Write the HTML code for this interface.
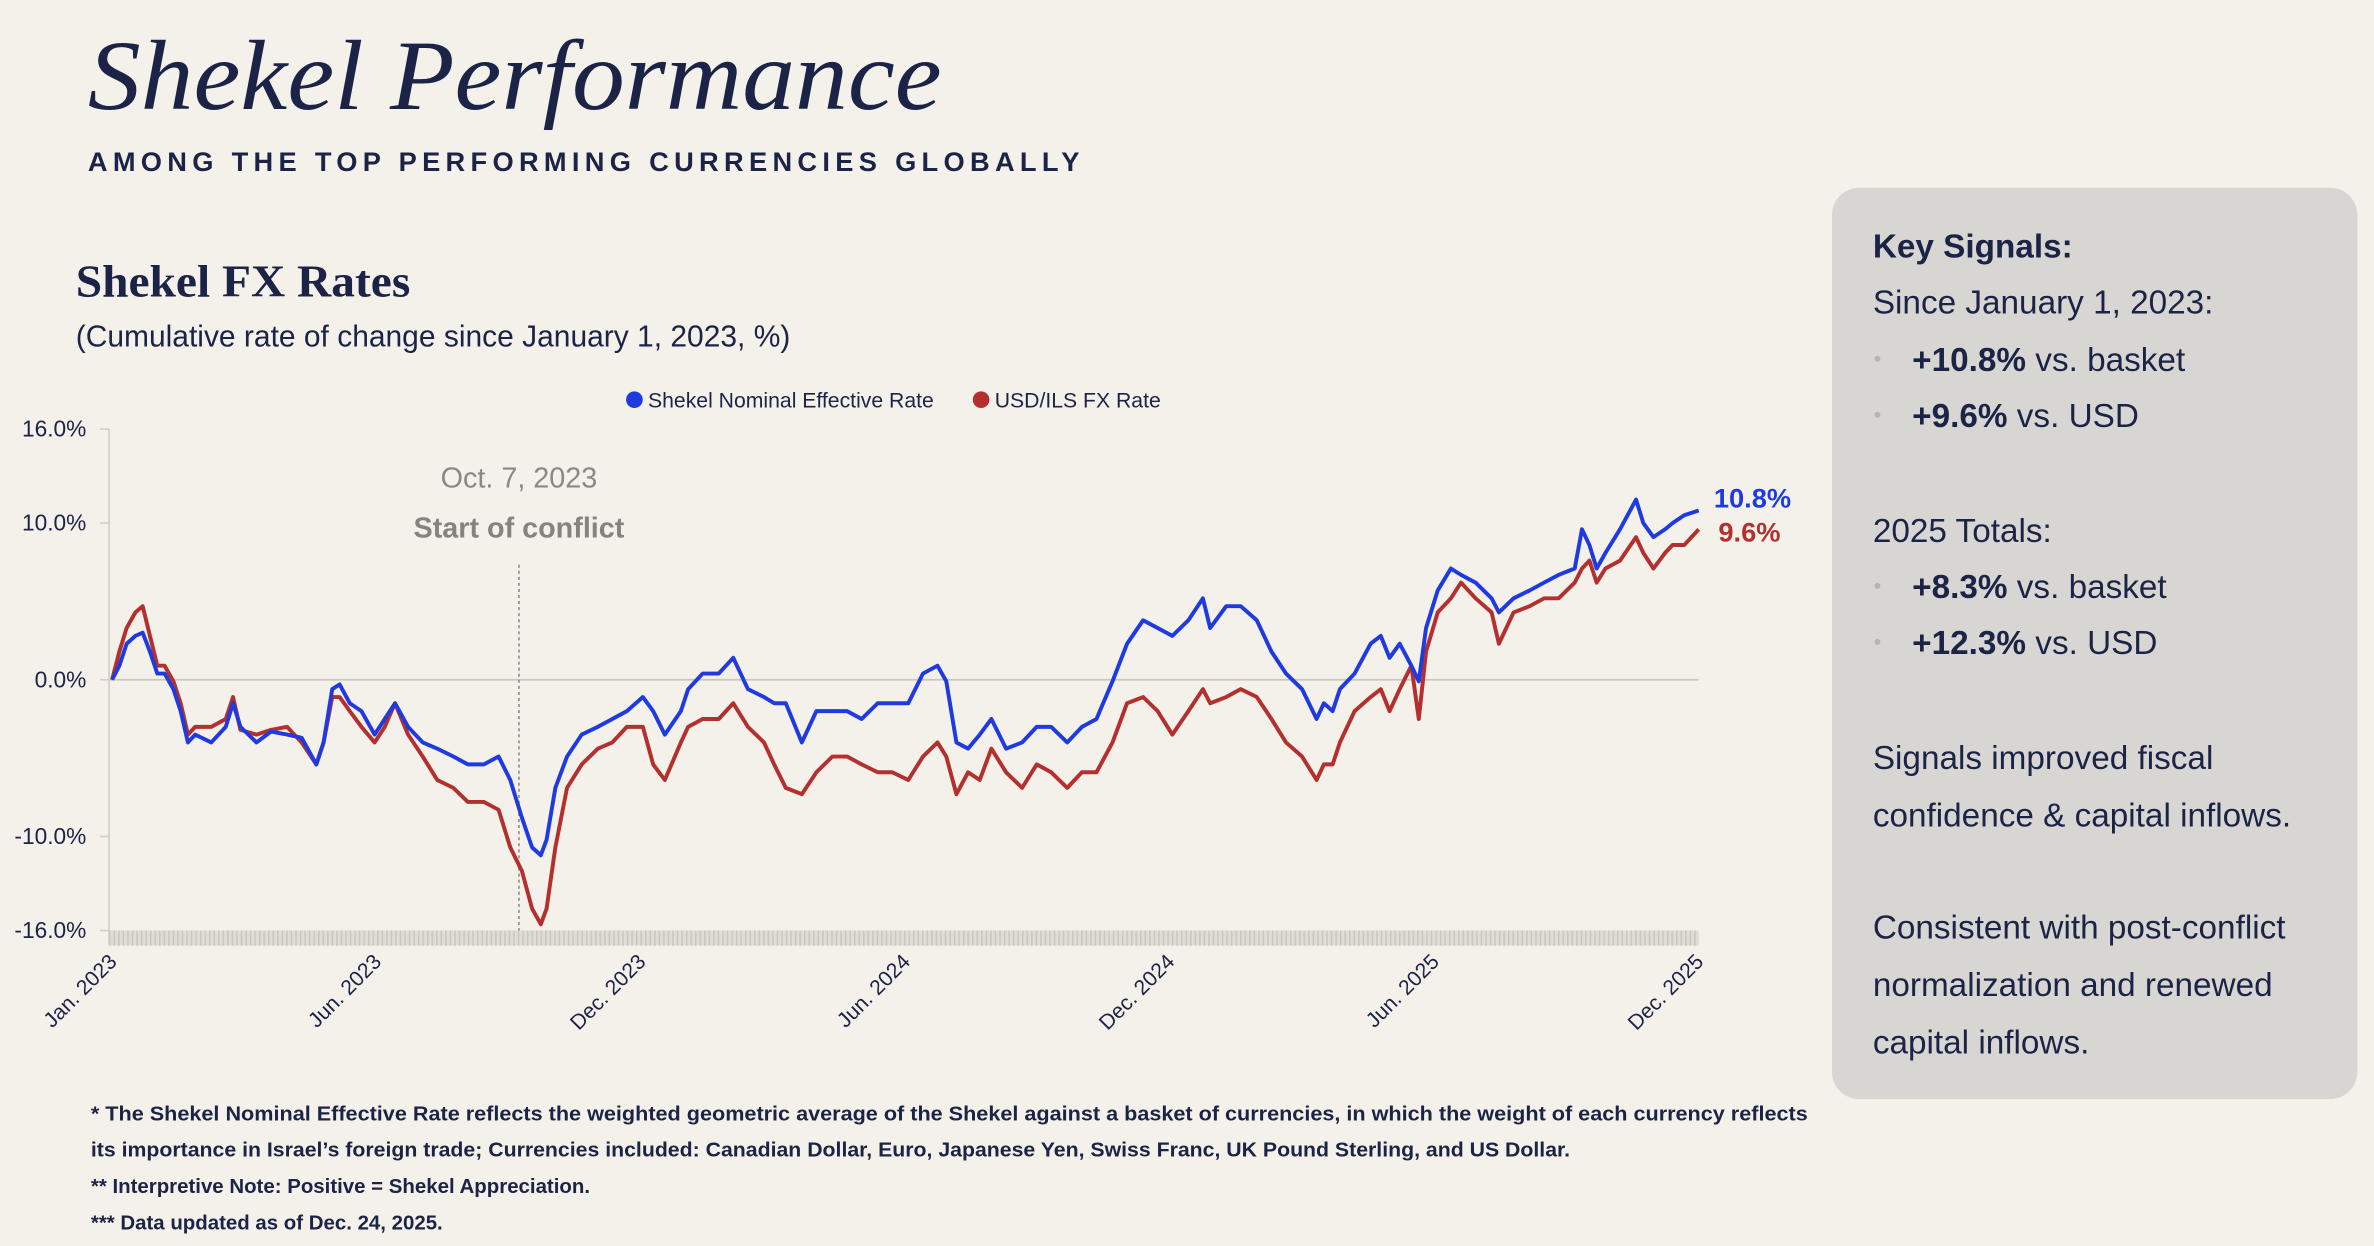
<!DOCTYPE html>
<html><head><meta charset="utf-8"><style>
html,body{margin:0;padding:0;background:#f4f1ea;}
svg{display:block;}
text{font-family:"Liberation Sans",sans-serif;}
.serif{font-family:"Liberation Serif",serif;}
</style></head><body>
<svg id="chart" width="2374" height="1246" viewBox="0 0 1568 823" xmlns="http://www.w3.org/2000/svg">
<defs>
<pattern id="hatch" width="3" height="10" patternUnits="userSpaceOnUse"><rect width="3" height="10" fill="#e0ddd6"/><rect width="1" height="10" fill="#c9c6bf"/></pattern>
</defs>
<rect width="1568" height="823" fill="#f4f1ea"/>
<text class="serif" x="58" y="72" font-size="66" font-style="italic" fill="#1b2346" textLength="564" lengthAdjust="spacingAndGlyphs">Shekel Performance</text>
<text x="58" y="113" font-size="18" font-weight="bold" fill="#1b2346" textLength="655" lengthAdjust="spacing">AMONG THE TOP PERFORMING CURRENCIES GLOBALLY</text>
<text class="serif" x="50" y="196" font-size="30" font-weight="bold" fill="#1b2346" textLength="221" lengthAdjust="spacingAndGlyphs">Shekel FX Rates</text>
<text x="50" y="229" font-size="20" fill="#1b2346" textLength="472" lengthAdjust="spacingAndGlyphs">(Cumulative rate of change since January 1, 2023, %)</text>
<g>
<circle cx="419" cy="264" r="5.5" fill="#1f3be0"/>
<text x="428" y="269" font-size="14" fill="#1b2346">Shekel Nominal Effective Rate</text>
<circle cx="648" cy="264" r="5.5" fill="#b3302f"/>
<text x="657" y="269" font-size="14" fill="#1b2346">USD/ILS FX Rate</text>
</g>
<g id="plot"></g>
<g>
<rect x="1210" y="124" width="347" height="602" rx="18" fill="#d8d6d2"/>
<text x="1237" y="170" font-size="22" font-weight="bold" fill="#1b2346">Key Signals:</text>
<text x="1237" y="207" font-size="22" fill="#1b2346">Since January 1, 2023:</text>
<circle cx="1240" cy="237" r="2" fill="#b8b6b2"/>
<text x="1263" y="245" font-size="22" fill="#1b2346"><tspan font-weight="bold">+10.8%</tspan> vs. basket</text>
<circle cx="1240" cy="274" r="2" fill="#b8b6b2"/>
<text x="1263" y="282" font-size="22" fill="#1b2346"><tspan font-weight="bold">+9.6%</tspan> vs. USD</text>
<text x="1237" y="358" font-size="22" fill="#1b2346">2025 Totals:</text>
<circle cx="1240" cy="387" r="2" fill="#b8b6b2"/>
<text x="1263" y="395" font-size="22" fill="#1b2346"><tspan font-weight="bold">+8.3%</tspan> vs. basket</text>
<circle cx="1240" cy="424" r="2" fill="#b8b6b2"/>
<text x="1263" y="432" font-size="22" fill="#1b2346"><tspan font-weight="bold">+12.3%</tspan> vs. USD</text>
<text font-size="22" fill="#1b2346"><tspan x="1237" y="508">Signals improved fiscal</tspan><tspan x="1237" y="546">confidence &amp; capital inflows.</tspan></text>
<text font-size="22" fill="#1b2346"><tspan x="1237" y="620">Consistent with post-conflict</tspan><tspan x="1237" y="658">normalization and renewed</tspan><tspan x="1237" y="696">capital inflows.</tspan></text>
</g>
<g font-size="13.5" font-weight="bold" fill="#1b2346">
<text x="60" y="740" textLength="1134" lengthAdjust="spacingAndGlyphs">* The Shekel Nominal Effective Rate reflects the weighted geometric average of the Shekel against a basket of currencies, in which the weight of each currency reflects</text>
<text x="60" y="764" textLength="977" lengthAdjust="spacingAndGlyphs">its importance in Israel’s foreign trade; Currencies included: Canadian Dollar, Euro, Japanese Yen, Swiss Franc, UK Pound Sterling, and US Dollar.</text>
<text x="60" y="788">** Interpretive Note: Positive = Shekel Appreciation.</text>
<text x="60" y="812">*** Data updated as of Dec. 24, 2025.</text>
</g>
</svg>
<script>
// days since 2023-01-01
const dayOffsets = [0,5,10,16,21,26,31,36,42,47,52,57,68,78,83,88,99,109,120,130,140,145,151,156,163,171,180,187,194,203,213,223,234,244,255,265,273,281,288,294,298,304,312,322,333,343,353,364,371,379,390,395,405,416,426,436,447,454,462,473,483,494,504,514,525,535,546,556,566,572,579,587,595,603,613,624,634,644,655,665,675,686,696,707,717,727,738,748,753,764,774,785,795,805,816,826,831,837,842,852,863,870,876,883,891,896,901,909,918,925,935,946,951,961,972,982,992,1003,1008,1013,1018,1024,1034,1045,1050,1057,1065,1070,1078,1088];
const nominalEffective = [0,0.9,2.3,2.8,3.0,1.8,0.4,0.4,-0.6,-2.0,-4.0,-3.5,-4.0,-3.0,-1.5,-3.0,-4.0,-3.3,-3.5,-3.7,-5.4,-4.0,-0.6,-0.3,-1.5,-2.0,-3.5,-2.5,-1.5,-3.0,-4.0,-4.4,-4.9,-5.4,-5.4,-4.9,-6.4,-8.8,-10.7,-11.2,-10.2,-6.9,-4.9,-3.5,-3.0,-2.5,-2.0,-1.1,-2.0,-3.5,-2.0,-0.6,0.4,0.4,1.4,-0.6,-1.1,-1.5,-1.5,-4.0,-2.0,-2.0,-2.0,-2.5,-1.5,-1.5,-1.5,0.4,0.9,-0.1,-4.0,-4.4,-3.5,-2.5,-4.4,-4.0,-3.0,-3.0,-4.0,-3.0,-2.5,-0.1,2.3,3.8,3.3,2.8,3.8,5.2,3.3,4.7,4.7,3.8,1.8,0.4,-0.6,-2.5,-1.5,-2.0,-0.6,0.4,2.3,2.8,1.4,2.3,0.9,-0.1,3.3,5.7,7.1,6.7,6.2,5.2,4.3,5.2,5.7,6.2,6.7,7.1,9.6,8.6,7.1,8.1,9.6,11.5,10.0,9.1,9.6,10.0,10.5,10.8];
const usdIls = [0,1.8,3.3,4.3,4.7,2.8,0.9,0.9,-0.1,-1.5,-3.5,-3.0,-3.0,-2.5,-1.1,-3.2,-3.5,-3.2,-3.0,-4.0,-5.4,-4.0,-1.1,-1.1,-2.0,-3.0,-4.0,-3.0,-1.5,-3.5,-4.9,-6.4,-6.9,-7.8,-7.8,-8.3,-10.7,-12.2,-14.6,-15.6,-14.6,-10.7,-6.9,-5.4,-4.4,-4.0,-3.0,-3.0,-5.4,-6.4,-4.0,-3.0,-2.5,-2.5,-1.5,-3.0,-4.0,-5.4,-6.9,-7.3,-5.9,-4.9,-4.9,-5.4,-5.9,-5.9,-6.4,-4.9,-4.0,-4.9,-7.3,-5.9,-6.4,-4.4,-5.9,-6.9,-5.4,-5.9,-6.9,-5.9,-5.9,-4.0,-1.5,-1.1,-2.0,-3.5,-2.0,-0.6,-1.5,-1.1,-0.6,-1.1,-2.5,-4.0,-4.9,-6.4,-5.4,-5.4,-4.0,-2.0,-1.1,-0.6,-2.0,-0.6,0.9,-2.5,1.8,4.3,5.2,6.2,5.2,4.3,2.3,4.3,4.7,5.2,5.2,6.2,7.1,7.6,6.2,7.1,7.6,9.1,8.1,7.1,8.1,8.6,8.6,9.6];
const yTicks = [16,10,0,-10,-16];
const yTickLabels = ["16.0%","10.0%","0.0%","-10.0%","-16.0%"];
const xTickLabels = ["Jan. 2023","Jun. 2023","Dec. 2023","Jun. 2024","Dec. 2024","Jun. 2025","Dec. 2025"];
const eventDay = 279; // Oct. 7, 2023
const eventLabels = ["Oct. 7, 2023","Start of conflict"];

const NS = "http://www.w3.org/2000/svg";
const plot = document.getElementById('plot');
const X0 = 74, X1 = 1122, Y0 = 449, PX_PER_PCT = 10.35;
const maxDay = dayOffsets[dayOffsets.length-1];
const xs = d => X0 + (d / maxDay) * (X1 - X0);
const ys = v => Y0 - v * PX_PER_PCT;
function mk(tag, attrs){ const e = document.createElementNS(NS, tag); for (const k in attrs) e.setAttribute(k, attrs[k]); plot.appendChild(e); return e; }

let band = mk('rect', {x: 72, y: ys(-16), width: X1-72, height: 10, fill: 'url(#hatch)'});


let yax = mk('line', {x1: 72, x2: 72, y1: ys(16), y2: ys(-16)+10, stroke: '#cfccc5', 'stroke-width': 1});


let zl = mk('line', {x1: 72, x2: X1, y1: ys(0), y2: ys(0), stroke: '#c9c6bf', 'stroke-width': 1.2});



yTicks.forEach((t, i) => {
  let tk = mk('line', {x1: 66, x2: 72, y1: ys(t), y2: ys(t), stroke: '#cfccc5'});
  
  
  let lb = mk('text', {x: 57, y: ys(t)+5, 'font-size': 15, 'text-anchor': 'end', fill: '#1b2346'});
  lb.textContent = yTickLabels[i];
  
  
});

xTickLabels.forEach((l, i) => {
  const x = xs(maxDay * i / (xTickLabels.length - 1));
  let lb = mk('text', {x: x+4, y: 636, 'font-size': 14, 'text-anchor': 'end', fill: '#1b2346', transform: `rotate(-45 ${x+4} 636)`});
  lb.textContent = l;
  
  
});

const ex = xs(eventDay);
let el = mk('line', {x1: ex, x2: ex, y1: 373, y2: ys(-16), stroke: '#9a9793', 'stroke-width': 1.2, 'stroke-dasharray': '2,2'});


let et1 = mk('text', {x: ex, y: 322, 'font-size': 19, 'text-anchor': 'middle', fill: '#8a8785'});
et1.textContent = eventLabels[0];


let et2 = mk('text', {x: ex, y: 355, 'font-size': 19, 'font-weight': 'bold', 'text-anchor': 'middle', fill: '#858280'});
et2.textContent = eventLabels[1];



function series(vals, color, name){
  const d = vals.map((v,i) => (i?'L':'M') + xs(dayOffsets[i]).toFixed(1) + ',' + ys(v).toFixed(1)).join('');
  let p = mk('path', {d, fill: 'none', stroke: color, 'stroke-width': 2.6, 'stroke-linejoin': 'round'});
  
  
}
series(usdIls, '#b3302f', 'usd-ils-line');
series(nominalEffective, '#1f3be0', 'nominal-effective-line');

const lastN = nominalEffective[nominalEffective.length-1], lastU = usdIls[usdIls.length-1];
let l1 = mk('text', {x: 1132, y: ys(lastN)-2, 'font-size': 18, 'font-weight': 'bold', fill: '#1f3be0'});
l1.textContent = lastN.toFixed(1) + '%';


let l2 = mk('text', {x: 1135, y: ys(lastU)+8, 'font-size': 18, 'font-weight': 'bold', fill: '#b3302f'});
l2.textContent = lastU.toFixed(1) + '%';


</script>
</body></html>
